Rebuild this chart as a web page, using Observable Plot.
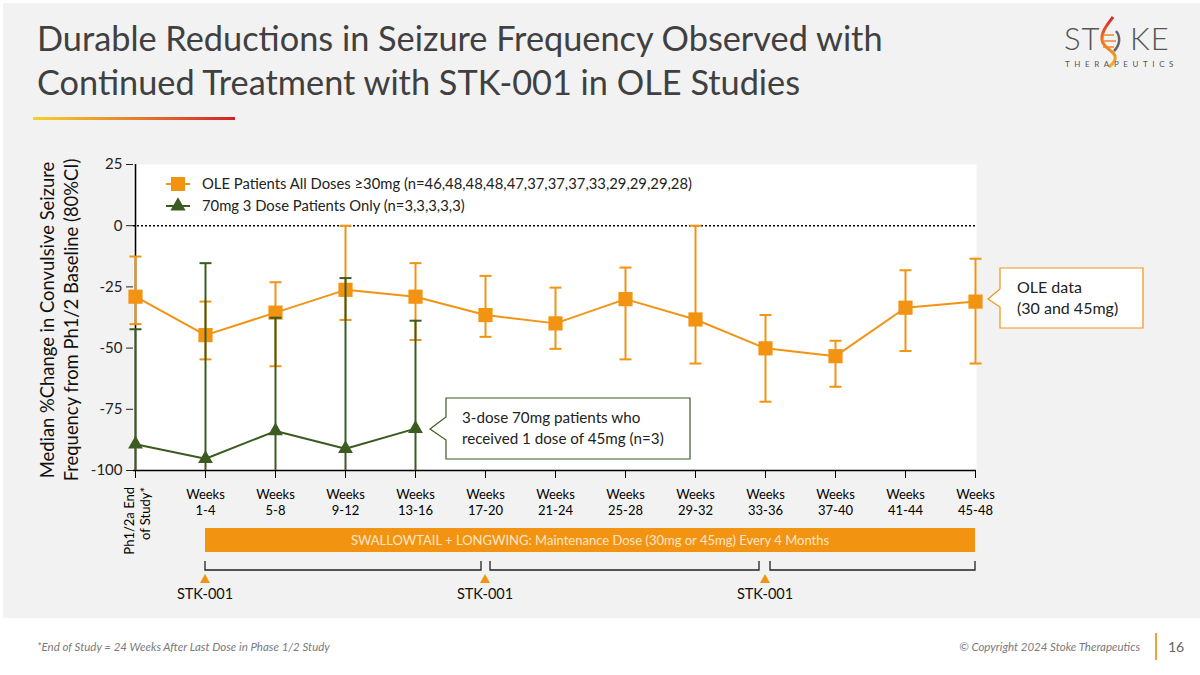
<!DOCTYPE html>
<html><head><meta charset="utf-8">
<script src="https://cdn.jsdelivr.net/npm/d3@7"></script>
<script src="https://cdn.jsdelivr.net/npm/@observablehq/plot@0.6"></script>
<style>
body{margin:0;width:1200px;height:675px;background:#fff;font-family:Lato,"Open Sans",sans-serif;position:relative;overflow:hidden}
#panel{position:absolute;left:3px;top:3px;width:1197px;height:615px;background:#f2f2f2}
#title{position:absolute;left:37px;top:16px;font-size:34.3px;line-height:44px;color:#404040;white-space:nowrap}
#rule{position:absolute;left:33px;top:117px;width:202px;height:3px;background:linear-gradient(90deg,#f5d327,#e8892a 45%,#d4202a)}
#logo{position:absolute;left:1055px;top:10px}
#chart{position:absolute;left:0;top:140px}
#footL{position:absolute;left:37px;top:640px;font-size:11.5px;font-style:italic;color:#7a7a7a}
#footR{position:absolute;right:60px;top:640px;font-size:11.5px;font-style:italic;color:#7a7a7a}
#footBar{position:absolute;left:1155px;top:633px;width:1.5px;height:27px;background:#f0a040}
#pg{position:absolute;left:1168px;top:638px;font-size:14px;color:#666}
</style></head>
<body>
<div id="panel"></div>
<div id="title">Durable Reductions in Seizure Frequency Observed with<br>Continued Treatment with STK-001 in OLE Studies</div>
<div id="rule"></div>
<svg id="logo" width="135" height="65">
  <defs><linearGradient id="hx" x1="0" y1="1" x2="0" y2="0"><stop offset="0" stop-color="#f7b21e"/><stop offset="0.6" stop-color="#ee6a23"/><stop offset="1" stop-color="#d6262a"/></linearGradient></defs>
  <text x="9" y="40" font-size="31" fill="#555" font-family="Lato" font-weight="300" letter-spacing="1">ST</text>
  <path d="M58,7 C52,15 46,22 47,30 C48,38 58,40 60,46 C61,50 58,54 54,57" fill="none" stroke="url(#hx)" stroke-width="3"/>
  <path d="M48,25 H59 M47,31 H61 M48,37 H59" stroke="#e8892a" stroke-width="1.6"/>
  <path d="M61,21 C66,27 65,35 59,41" fill="none" stroke="#666" stroke-width="2.5"/>
  <text x="75" y="40" font-size="31" fill="#555" font-family="Lato" font-weight="300" letter-spacing="1">KE</text>
  <text x="10" y="57" font-size="8" fill="#555" font-family="Lato" letter-spacing="4.6">THERAPEUTICS</text>
</svg>
<div id="chart"></div>
<div id="footL">*End of Study = 24 Weeks After Last Dose in Phase 1/2 Study</div>
<div id="footR">© Copyright 2024 Stoke Therapeutics</div>
<div id="footBar"></div>
<div id="pg">16</div>
<script>
// ---------- data ----------
const categories = ["Ph1/2a End\nof Study*", "Weeks\n1-4", "Weeks\n5-8", "Weeks\n9-12", "Weeks\n13-16",
  "Weeks\n17-20", "Weeks\n21-24", "Weeks\n25-28", "Weeks\n29-32", "Weeks\n33-36", "Weeks\n37-40", "Weeks\n41-44", "Weeks\n45-48"];
const oleMedian = [-29, -44.7, -35.5, -26.2, -29, -36.5, -39.9, -30, -38.3, -50.1, -53.3, -33.5, -31];
const oleUpper  = [-12.6, -31, -23.1, 0, -15.3, -20.5, -25.3, -17.1, 0, -36.5, -47, -18.2, -13.5];
const oleLower  = [-40.2, -54.6, -57.4, -38.5, -46.7, -45.4, -50.3, -54.6, -56.3, -71.9, -65.8, -51.2, -56.3];
const g70Median = [-89.3, -95.2, -83.9, -91.1, -82.9];
const g70Upper  = [-42.3, -15.3, -37.6, -21.4, -38.8];
const g70Lower  = [-100, -100, -100, -100, -100];
const yTicks = [25, 0, -25, -50, -75, -100];
const doseWeeks = [categories[1], categories[5], categories[9]];
const legendLabels = ["OLE Patients All Doses \u226530mg (n=46,48,48,48,47,37,37,37,33,29,29,29,28)", "70mg 3 Dose Patients Only (n=3,3,3,3,3)"];

const ORANGE = "#F29312", GREEN = "#3B5B20";
const oleRows = categories.map((c, i) => ({cat: c, med: oleMedian[i], lo: oleLower[i], hi: oleUpper[i]}));
const g70Rows = g70Median.map((m, i) => ({cat: categories[i], med: m, lo: g70Lower[i], hi: g70Upper[i]}));
const cap = {draw(ctx, size) { const r = Math.sqrt(size / Math.PI); ctx.moveTo(-r, 0); ctx.lineTo(r, 0); }};

const plot = Plot.plot({
  width: 1200, height: 480,
  marginTop: 24, marginBottom: 150, marginLeft: 133, marginRight: 224,
  style: {background: "transparent", fontFamily: "Lato, sans-serif", color: "#000", overflow: "visible"},
  x: {type: "point", domain: categories, padding: 0},
  y: {domain: [-100, 25]},
  marks: [
    Plot.frame({fill: "#fff", stroke: "none"}),
    Plot.ruleY([0], {stroke: "#000", strokeWidth: 1.6, strokeDasharray: "2,2"}),
    Plot.ruleX([categories[0]], {stroke: "#000", strokeWidth: 1.6}),
    Plot.ruleY([-100], {stroke: "#000", strokeWidth: 1.6}),
    Plot.ruleX(oleRows, {x: "cat", y1: "lo", y2: "hi", stroke: ORANGE, strokeWidth: 2}),
    Plot.dot(oleRows, {x: "cat", y: "hi", symbol: cap, r: 6, stroke: ORANGE, strokeWidth: 2}),
    Plot.dot(oleRows, {x: "cat", y: "lo", symbol: cap, r: 6, stroke: ORANGE, strokeWidth: 2}),
    Plot.line(oleRows, {x: "cat", y: "med", stroke: ORANGE, strokeWidth: 2}),
    Plot.dot(oleRows, {x: "cat", y: "med", symbol: "square", r: 8, fill: ORANGE}),
    Plot.ruleX(g70Rows, {x: "cat", y1: "lo", y2: "hi", stroke: GREEN, strokeWidth: 2}),
    Plot.dot(g70Rows, {x: "cat", y: "hi", symbol: cap, r: 6, stroke: GREEN, strokeWidth: 2}),
    Plot.line(g70Rows, {x: "cat", y: "med", stroke: GREEN, strokeWidth: 2}),
    Plot.dot(g70Rows, {x: "cat", y: "med", symbol: "triangle", r: 5.5, fill: GREEN}),
    Plot.axisY({ticks: yTicks, tickSize: 7, tickPadding: 4, fontSize: 15, tickFormat: d => String(d), label: null, color: "#222"}),
    Plot.axisX({tickSize: 8, tickPadding: 9, fontSize: 13, lineHeight: 1.25, tickFormat: d => d === categories[0] ? "" : d, label: null})
  ]
});
document.getElementById("chart").appendChild(plot);

// ---------- annotations positioned with the plot's scales ----------
const svg = d3.select(plot);
const xs = c => plot.scale("x").apply(c);
const g = svg.append("g").attr("font-family", "Lato, sans-serif").attr("text-anchor", "start");

// legend
const leg = [[ORANGE, "square"], [GREEN, "triangle"]];
leg.forEach(([col, sym], i) => {
  const y = 44 + i * 22;
  g.append("line").attr("x1", 166).attr("x2", 190).attr("y1", y).attr("y2", y).attr("stroke", col).attr("stroke-width", 2);
  g.append("path").attr("transform", `translate(178,${y})`).attr("fill", col)
    .attr("d", d3.symbol(sym === "square" ? d3.symbolSquare : d3.symbolTriangle, sym === "square" ? 196 : 100)());
  g.append("text").attr("x", 202).attr("y", y).attr("dy", "0.35em").attr("font-size", 14.8).attr("fill", "#222").text(legendLabels[i]);
});

// y axis title
const yt = g.append("text").attr("transform", "translate(48,180) rotate(-90)").attr("text-anchor", "middle").attr("font-size", 18.4).attr("fill", "#111");
yt.append("tspan").attr("x", 0).attr("dy", "0.35em").text("Median %Change in Convulsive Seizure");
yt.append("tspan").attr("x", 0).attr("dy", "1.28em").text("Frequency from Ph1/2 Baseline (80%CI)");

// rotated first category label
categories[0].split("\n").forEach((t, i) => {
  g.append("text").attr("transform", `translate(${xs(categories[0]) - 6 + i * 16},347) rotate(-90)`)
    .attr("text-anchor", "end").attr("dy", "0.35em").attr("font-size", 13).attr("fill", "#000").text(t);
});

// maintenance bar
const x1 = xs(categories[1]), x2 = xs(categories[12]);
g.append("rect").attr("x", x1).attr("y", 388).attr("width", x2 - x1).attr("height", 24).attr("fill", ORANGE);
g.append("text").attr("x", (x1 + x2) / 2).attr("y", 400).attr("dy", "0.35em").attr("text-anchor", "middle")
  .attr("font-size", 13).attr("fill", "#fde6c8").text("SWALLOWTAIL + LONGWING: Maintenance Dose (30mg or 45mg) Every 4 Months");

// brackets between doses
const ends = [[xs(doseWeeks[0]), xs(doseWeeks[1]) - 4], [xs(doseWeeks[1]) + 5, xs(doseWeeks[2]) - 6], [xs(doseWeeks[2]) + 5, x2]];
ends.forEach(([a, b]) => {
  g.append("path").attr("d", `M${a},421V430H${b}V421`).attr("fill", "none").attr("stroke", "#222").attr("stroke-width", 1.3);
});
doseWeeks.forEach(w => {
  const x = xs(w);
  g.append("path").attr("d", `M${x - 5},443L${x},434L${x + 5},443Z`).attr("fill", ORANGE);
  g.append("text").attr("x", x).attr("y", 454).attr("dy", "0.35em").attr("text-anchor", "middle").attr("font-size", 14.5).attr("fill", "#111").text("STK-001");
});

// callout: 3-dose 70mg
g.append("path").attr("d", "M446,258H690V319H446V300L430,289L446,277Z").attr("fill", "#fff").attr("stroke", GREEN).attr("stroke-width", 1.2);
g.append("text").attr("x", 462).attr("y", 278).attr("dy", "0.35em").attr("font-size", 15.2).attr("fill", "#222").text("3-dose 70mg patients who");
g.append("text").attr("x", 462).attr("y", 299).attr("dy", "0.35em").attr("font-size", 15.2).attr("fill", "#222").text("received 1 dose of 45mg (n=3)");

// callout: OLE data
g.append("path").attr("d", "M1000,128H1143V188H1000V167L988,159L1000,149Z").attr("fill", "#fff").attr("stroke", ORANGE).attr("stroke-width", 1.2);
g.append("text").attr("x", 1017).attr("y", 147).attr("dy", "0.35em").attr("font-size", 16).attr("fill", "#222").text("OLE data");
g.append("text").attr("x", 1017).attr("y", 168).attr("dy", "0.35em").attr("font-size", 16).attr("fill", "#222").text("(30 and 45mg)");
</script>
</body></html>
